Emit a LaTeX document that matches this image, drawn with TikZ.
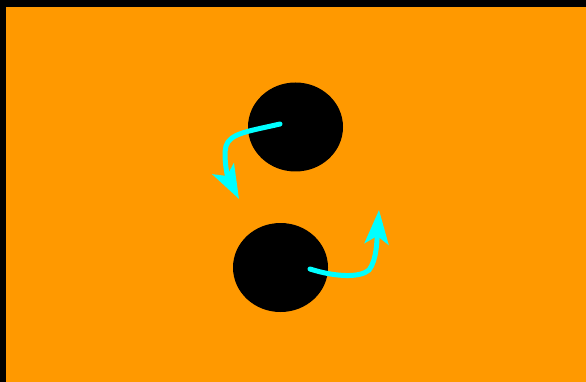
\documentclass[tikz,border=0pt]{standalone}
\usetikzlibrary{arrows.meta,shapes.geometric}
\definecolor{bgorange}{HTML}{FF9900}
\definecolor{arrcyan}{HTML}{00FFFF}
\tikzset{
  ball/.style={ellipse,fill=black,minimum width=95pt,minimum height=89pt,inner sep=0pt},
  spin/.style={draw=arrcyan,line width=5pt,line cap=round,
    -{Stealth[length=34pt,width=24pt,inset=8pt]}}
}
\begin{document}
\begin{tikzpicture}[x=1pt,y=-1pt]
\fill[black] (0,0) rectangle (586,382);
\useasboundingbox (0,0) rectangle (586,382);
\fill[bgorange] (6,7) rectangle (586,382);
\node[ball] (top) at (295.5,127) {};
\node[ball] (bot) at (280.5,267.5) {};
\coordinate (s1) at (280,124);
\coordinate (e1) at (239,199);
\coordinate (s2) at (310,269);
\coordinate (e2) at (379,210);
\draw[spin] (s1) .. controls (250,131) and (230,133) .. (226,146)
  .. controls (223,158) and (228,178) .. (e1);
\draw[spin] (s2) .. controls (335,277) and (360,278) .. (369,270)
  .. controls (377,260) and (377,238) .. (e2);
\end{tikzpicture}
\end{document}
